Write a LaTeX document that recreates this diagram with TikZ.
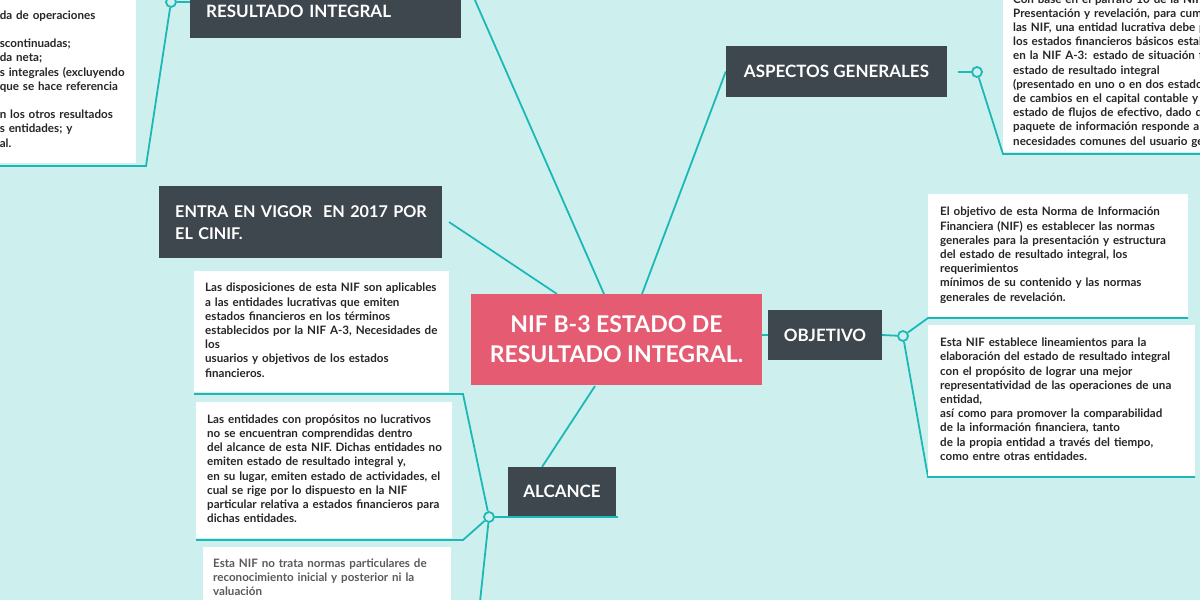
\documentclass[tikz,border=0pt]{standalone}
\usepackage{fontspec}
\setmainfont{Lato}
\usetikzlibrary{calc}
\definecolor{bgc}{RGB}{205,240,239}
\definecolor{lnc}{RGB}{27,184,181}
\definecolor{dkc}{RGB}{62,70,78}
\definecolor{pkc}{RGB}{229,92,114}
\definecolor{txc}{RGB}{38,38,38}
\definecolor{gyc}{RGB}{90,90,90}
\pgfdeclarelayer{back}
\pgfsetlayers{back,main}
\newcommand{\ntfont}{\fontsize{11.6}{14.2}\selectfont\bfseries}
\begin{document}
\begin{tikzpicture}[x=1pt,y=-1pt,
  conn/.style={draw=lnc,line width=1.8pt},
  hub/.style={circle,draw=lnc,line width=1.8pt,fill=bgc,minimum size=10pt,inner sep=0pt},
  topic/.style={fill=dkc,text=white,font=\fontsize{17}{22}\selectfont\bfseries,inner sep=0pt},
  note/.style={fill=white,text=txc,font=\ntfont,align=left,inner ysep=0pt},
  root/.style={fill=pkc,text=white,font=\fontsize{23}{30}\selectfont\bfseries,align=center,inner sep=0pt,minimum width=291pt,minimum height=91pt}]
\useasboundingbox (0,0) rectangle (1200,600);
\clip (0,0) rectangle (1200,600);
\begin{pgfonlayer}{back}
\fill[bgc] (0,0) rectangle (1200,600);
\end{pgfonlayer}

% central and topics
\node[root] (c) at (616.5,339.5) {NIF B-3 ESTADO DE\\RESULTADO INTEGRAL.};
\node[topic,minimum width=114pt,minimum height=50pt] (obj) at (825,335) {OBJETIVO};
\node[topic,minimum width=221pt,minimum height=51pt] (asp) at (836.5,71.5) {ASPECTOS GENERALES};
\node[topic,minimum width=108pt,minimum height=49pt] (alc) at (562,491.5) {ALCANCE};
\node[topic,font=\fontsize{16.2}{22}\selectfont\bfseries,align=left,anchor=north west,text width=251pt,inner xsep=16pt,minimum height=72pt] (ent) at (159,186) {\mbox{ENTRA EN VIGOR \ EN 2017 POR}\\EL CINIF.};
\node[topic,anchor=south west,inner xsep=16pt,inner ysep=20pt,text width=239pt,align=left] (res) at (190,38) {RESULTADO INTEGRAL};

% notes
\node[note,anchor=south east,inner xsep=8pt,text width=128pt,minimum height=165pt] (tl) at (136,163) {\strut da de operaciones\\[14.2pt]scontinuadas;\\da neta;\\\mbox{s integrales (excluyendo}\\que se hace referencia\\[14.2pt]n los otros resultados\\s entidades; y\\al.\strut};
\node[note,anchor=south west,inner xsep=10pt,text width=277pt,minimum height=161pt] (tr) at (1003,152) {\strut Con base en el párrafo 10 de la NIF A-7,\\Presentación y revelación, para cumplir con\\las NIF, una entidad lucrativa debe presentar\\los estados financieros básicos establecidos\\en la NIF A-3: estado de situación financiera,\\estado de resultado integral\\(presentado en uno o en dos estados), estado\\de cambios en el capital contable y\\estado de flujos de efectivo, dado que dicho\\paquete de información responde a las\\necesidades comunes del usuario general.\strut};
\node[note,anchor=north west,inner xsep=11pt,text width=233pt,minimum height=121pt] (disp) at (194,271) {\strut\mbox{Las disposiciones de esta NIF son aplicables}\\a las entidades lucrativas que emiten\\estados financieros en los términos\\\mbox{establecidos por la NIF A-3, Necesidades de}\\los\\usuarios y objetivos de los estados\\financieros.\strut};
\node[note,anchor=north west,inner xsep=11pt,text width=234pt,minimum height=136pt] (lucr) at (196,402) {\strut\mbox{Las entidades con propósitos no lucrativos}\\no se encuentran comprendidas dentro\\\mbox{del alcance de esta NIF. Dichas entidades no}\\emiten estado de resultado integral y,\\\mbox{en su lugar, emiten estado de actividades, el}\\cual se rige por lo dispuesto en la NIF\\\mbox{particular relativa a estados financieros para}\\dichas entidades.\strut};
\node[note,text=gyc,anchor=north west,inner xsep=10pt,text width=228pt,minimum height=62.4pt] (nt) at (203,547) {\strut Esta NIF no trata normas particulares de\\reconocimiento inicial y posterior ni la\\valuación\strut};
\node[note,anchor=north west,inner xsep=12pt,text width=236pt,minimum height=123pt] (o1) at (928,194) {\strut\mbox{El objetivo de esta Norma de Información}\\Financiera (NIF) es establecer las normas\\\mbox{generales para la presentación y estructura}\\del estado de resultado integral, los\\requerimientos\\mínimos de su contenido y las normas\\generales de revelación.\strut};
\node[note,anchor=north west,inner xsep=12pt,text width=243pt,minimum height=151pt] (o2) at (928,325) {\strut Esta NIF establece lineamientos para la\\\mbox{elaboración del estado de resultado integral}\\con el propósito de lograr una mejor\\\mbox{representatividad de las operaciones de una}\\entidad,\\así como para promover la comparabilidad\\de la información financiera, tanto\\de la propia entidad a través del tiempo,\\como entre otras entidades.\strut};

% hubs
\node[hub] (ha) at (977,72) {};
\node[hub] (hb) at (903,336) {};
\node[hub] (hc) at (489,517) {};
\node[hub] (hd) at (171,2) {};

% coordinates
\coordinate (cE) at (557,294);
\coordinate (cR) at (604,294);
\coordinate (cA) at (642,294);
\coordinate (cB) at (595,386);
\coordinate (entE) at (449,222);
\coordinate (resE) at (467,-18);
\coordinate (alcN) at (542,467);
\coordinate (aspE) at (958,72);
\coordinate (trK) at (1003,154);
\coordinate (trE) at (1210,154);
\coordinate (o1K) at (928,318);
\coordinate (o1E) at (1188,318);
\coordinate (o2K) at (928,477);
\coordinate (o2E) at (1195,477);
\coordinate (alcE) at (618,517);
\coordinate (dispK) at (463,394);
\coordinate (dispE) at (194,394);
\coordinate (lucrK) at (463,540);
\coordinate (lucrE) at (196,540);
\coordinate (ntK) at (477,630);
\coordinate (resW) at (190,2);
\coordinate (tlK) at (146,166);
\coordinate (tlE) at (-10,166);

\begin{pgfonlayer}{back}
\draw[conn] (cE) -- (entE);
\draw[conn] (cR) -- (resE);
\draw[conn] (cA) -- (asp.west);
\draw[conn] (c.east |- obj.west) -- (obj.west);
\draw[conn] (cB) -- (alcN);
\draw[conn] (aspE) -- (ha);
\draw[conn] (ha) -- (trK) -- (trE);
\draw[conn] (obj.east) -- (hb);
\draw[conn] (hb) -- (o1K) -- (o1E);
\draw[conn] (hb) -- (o2K) -- (o2E);
\draw[conn] (alcE) -- (hc);
\draw[conn] (hc) -- (dispK) -- (dispE);
\draw[conn] (hc) -- (lucrK) -- (lucrE);
\draw[conn] (hc) -- (ntK);
\draw[conn] (resW) -- (hd);
\draw[conn] (hd) -- (tlK) -- (tlE);
\end{pgfonlayer}
\end{tikzpicture}
\end{document}
